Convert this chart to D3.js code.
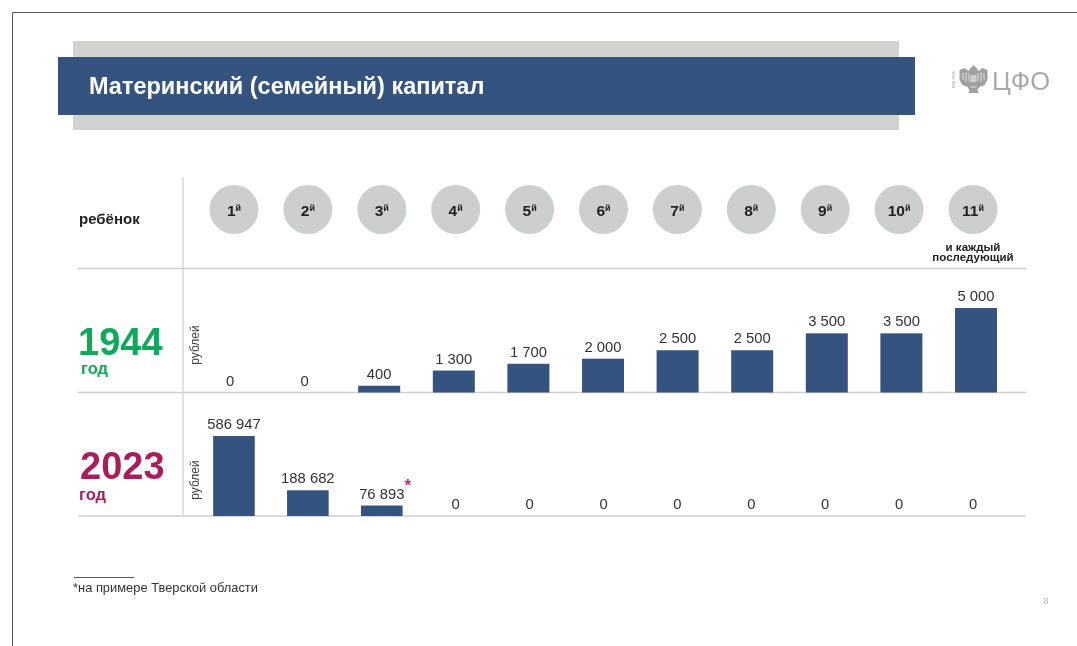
<!DOCTYPE html>
<html lang="ru">
<meta charset="utf-8">
<style>
    body { margin: 0; background: #fff; }
    svg { display: block; font-family: "Liberation Sans", Arial, sans-serif; filter: blur(0.35px); }
</style>
<body>
    <script src="https://d3js.org/d3.v7.js"></script>
    <script>
        const children = ['1', '2', '3', '4', '5', '6', '7', '8', '9', '10', '11']
        const values1944 = [0, 0, 400, 1300, 1700, 2000, 2500, 2500, 3500, 3500, 5000]
        const values2023 = [586947, 188682, 76893, 0, 0, 0, 0, 0, 0, 0, 0]

        const w = 1077
        const h = 646
        const blue = '#34547f'
        const lineGrey = '#cfcfcf'
        const format = d3.formatLocale({ decimal: ',', thousands: ' ', grouping: [3], currency: ['', ''] }).format(',')

        const svg = d3.select('body').append('svg').attr('width', w).attr('height', h)

        // page frame
        svg.append('path').attr('d', `M${w},12.5H12.5V${h}`).attr('fill', 'none').attr('stroke', '#555')

        // header
        svg.append('rect').attr('x', 73).attr('y', 41).attr('width', 826).attr('height', 89).attr('fill', '#d2d2d0')
        svg.append('rect').attr('x', 58).attr('y', 57).attr('width', 857).attr('height', 58).attr('fill', blue)
        svg.append('text').attr('x', 89).attr('y', 94).attr('fill', '#fff')
            .attr('font-size', 23.5).attr('font-weight', 700).text('Материнский (семейный) капитал')

        // logo
        const logo = svg.append('g').attr('fill', '#a9a9a9')
        logo.append('text').attr('x', 992).attr('y', 90).attr('font-size', 25.5).text('ЦФО')
        logo.append('text').attr('transform', 'translate(955,79) rotate(-90)').attr('text-anchor', 'middle')
            .attr('font-size', 4).text('МИНФИН')
        // eagle silhouette with a few light feather strokes
        logo.append('path').attr('fill', '#a0a0a0')
            .attr('d', 'M973.5,65 l3,3 l2,3 l4,-3 l5,2 v10 l-3,5 l-5,2 l-2,3 l1,3 h-10 l1,-3 l-2,-3 l-5,-2 l-3,-5 v-10 l5,-2 l4,3 l2,-3 z')
        logo.append('path').attr('fill', 'none').attr('stroke', '#e4e4e4').attr('stroke-width', 0.9)
            .attr('d', 'M963,73 v7 M966,72 v10 M969,73 v8 M978,73 v8 M981,72 v10 M984,73 v7 M970.5,87 h6')
        logo.append('rect').attr('x', 970.5).attr('y', 75).attr('width', 6).attr('height', 7).attr('fill', '#cfcfcf')

        // grid lines
        const rowLines = [268.5, 392.5, 516]
        svg.selectAll('line.row').data(rowLines).enter().append('line')
            .attr('class', 'row')
            .attr('x1', 78).attr('x2', 1026)
            .attr('y1', d => d).attr('y2', d => d)
            .attr('stroke', lineGrey).attr('stroke-width', 1.5)
        svg.append('line').attr('x1', 183).attr('x2', 183).attr('y1', 177).attr('y2', 516)
            .attr('stroke', lineGrey).attr('stroke-width', 1.2)

        svg.append('text').attr('x', 79).attr('y', 224).attr('fill', '#222')
            .attr('font-size', 15).attr('font-weight', 700).text('ребёнок')

        // child circles
        const xChild = d3.scalePoint().domain(children).range([234, 973])
        const circles = svg.selectAll('g.child').data(children).enter().append('g')
            .attr('class', 'child')
            .attr('transform', d => `translate(${xChild(d)},209.5)`)
        circles.append('circle').attr('r', 24.5).attr('fill', '#cdcfce')
        const circleText = circles.append('text').attr('text-anchor', 'middle').attr('y', 6)
            .attr('fill', '#222').attr('font-size', 15.5).attr('font-weight', 700)
        circleText.append('tspan').text(d => d)
        circleText.append('tspan').attr('dy', -5).attr('font-size', 9).text('й')

        svg.append('text').attr('x', 973).attr('y', 251).attr('text-anchor', 'middle')
            .attr('fill', '#222').attr('font-size', 11.5).attr('font-weight', 700).text('и каждый')
        svg.append('text').attr('x', 973).attr('y', 261).attr('text-anchor', 'middle')
            .attr('fill', '#222').attr('font-size', 11.5).attr('font-weight', 700).text('последующий')

        function drawRow(values, xStart, xEnd, yScale, baseline) {
            const x = d3.scaleBand().domain(children).range([xStart, xEnd]).paddingInner(0.437).paddingOuter(0.2185)
            const row = svg.append('g')
            row.selectAll('rect').data(values).enter().append('rect')
                .attr('x', (d, i) => x(children[i]))
                .attr('y', d => yScale(d))
                .attr('width', x.bandwidth())
                .attr('height', d => baseline - yScale(d))
                .attr('fill', blue)
            row.selectAll('text').data(values).enter().append('text')
                .attr('x', (d, i) => x(children[i]) + x.bandwidth() / 2)
                .attr('y', d => yScale(d) - 7)
                .attr('text-anchor', 'middle')
                .attr('fill', '#333')
                .attr('font-size', 14.8)
                .text(d => format(d))
        }

        const y1944 = d3.scaleLinear().domain([0, d3.max(values1944)]).range([392.5, 308])
        const y2023 = d3.scaleLinear().domain([0, d3.max(values2023)]).range([516, 436])
        drawRow(values1944, 192.7, 1013.3, y1944, 392.5)
        drawRow(values2023, 197, 1010, y2023, 516)

        // star next to the third value
        svg.append('text').attr('x', 404.5).attr('y', 491).attr('fill', '#b8326a')
            .attr('font-size', 17).attr('font-weight', 700).text('*')

        // years
        svg.append('text').attr('x', 78).attr('y', 355).attr('fill', '#10a85a')
            .attr('font-size', 38).attr('font-weight', 700).text('1944')
        svg.append('text').attr('x', 81).attr('y', 374).attr('fill', '#10a85a')
            .attr('font-size', 16.5).attr('font-weight', 700).text('год')
        svg.append('text').attr('x', 80).attr('y', 479).attr('fill', '#a81e5c')
            .attr('font-size', 38).attr('font-weight', 700).text('2023')
        svg.append('text').attr('x', 79).attr('y', 500).attr('fill', '#a81e5c')
            .attr('font-size', 16.5).attr('font-weight', 700).text('год')

        svg.selectAll('text.unit').data([345, 480]).enter().append('text')
            .attr('class', 'unit')
            .attr('transform', d => `translate(199,${d}) rotate(-90)`)
            .attr('text-anchor', 'middle')
            .attr('fill', '#444').attr('font-size', 12).text('рублей')

        // footnote
        svg.append('line').attr('x1', 74).attr('x2', 134).attr('y1', 577.5).attr('y2', 577.5).attr('stroke', '#555')
        svg.append('text').attr('x', 73).attr('y', 592).attr('fill', '#333')
            .attr('font-size', 12.9).text('*на примере Тверской области')
        svg.append('text').attr('x', 1046).attr('y', 604).attr('text-anchor', 'middle')
            .attr('fill', '#b5b5b5').attr('font-size', 9).text('8')
    </script>
</body>
</html>
